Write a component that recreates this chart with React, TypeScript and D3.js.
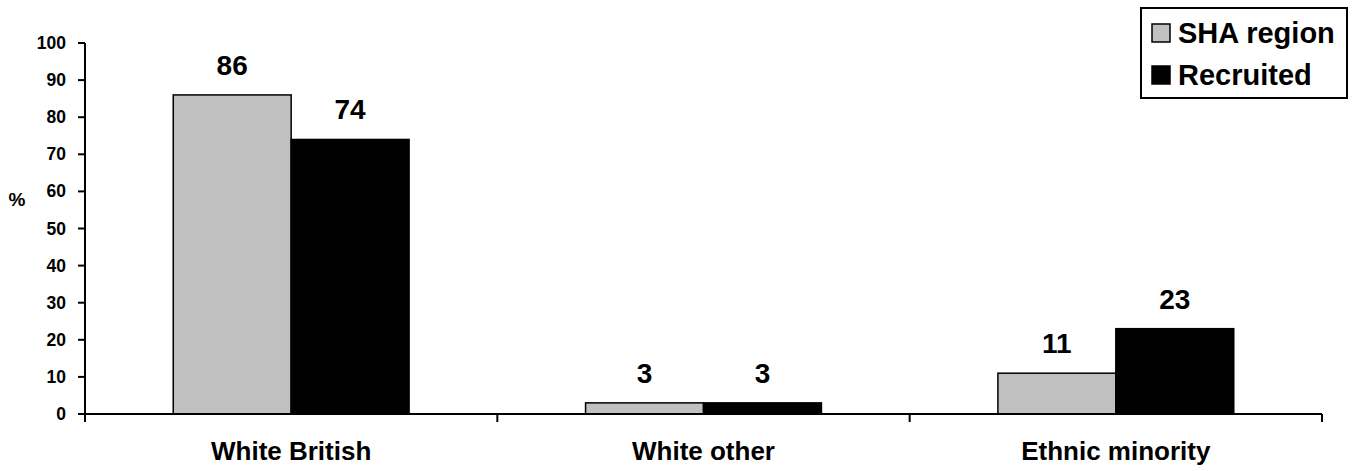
import * as d3 from "d3";

const categories = ["White British", "White other", "Ethnic minority"];
const seriesNames = ["SHA region", "Recruited"];
const shaRegion = [86, 3, 11];
const recruited = [74, 3, 23];
const yTicks = [0, 10, 20, 30, 40, 50, 60, 70, 80, 90, 100];
const seriesColors = ["#c0c0c0", "#000000"];

const W = 1355;
const H = 471;
const FONT = "Arial, 'Liberation Sans', sans-serif";

export default function App() {
  const x = d3.scaleBand<string>().domain(categories).range([85, 1322]);
  const y = d3.scaleLinear().domain([0, 100]).range([414, 43]);
  const groupW = x.bandwidth() * 0.572;
  const xSub = d3
    .scaleBand<string>()
    .domain(seriesNames)
    .range([(x.bandwidth() - groupW) / 2, (x.bandwidth() + groupW) / 2]);

  const values = [shaRegion, recruited];
  // category boundaries for the tick marks
  const xTickPos = [...categories.map((c) => x(c)!), x.range()[1]];

  return (
    <svg
      width={W}
      height={H}
      style={{ position: "absolute", left: 0, top: 0, background: "#fff" }}
      fontFamily={FONT}
      fontWeight="bold"
    >
      {/* bars */}
      {categories.map((c, i) =>
        seriesNames.map((s, j) => {
          const v = values[j][i];
          const bx = x(c)! + xSub(s)!;
          return (
            <g key={c + s}>
              <rect
                x={bx}
                y={y(v)}
                width={xSub.bandwidth()}
                height={y(0) - y(v)}
                fill={seriesColors[j]}
                stroke="#000"
                strokeWidth={1.5}
              />
              <text
                x={bx + xSub.bandwidth() / 2}
                y={y(v) - 20}
                textAnchor="middle"
                fontSize={28}
                fill="#000"
              >
                {v}
              </text>
            </g>
          );
        })
      )}

      {/* y axis */}
      <line x1={85} x2={85} y1={y(100)} y2={y(0)} stroke="#000" strokeWidth={2} />
      {yTicks.map((t) => (
        <g key={t}>
          <line x1={78} x2={85} y1={y(t)} y2={y(t)} stroke="#000" strokeWidth={2} />
          <text x={66} y={y(t) + 6} textAnchor="end" fontSize={17.5} fill="#000">
            {t}
          </text>
        </g>
      ))}
      <text x={17} y={206} textAnchor="middle" fontSize={19} fill="#000">
        %
      </text>

      {/* x axis */}
      <line x1={85} x2={1322} y1={y(0)} y2={y(0)} stroke="#000" strokeWidth={2} />
      {xTickPos.map((p, i) => (
        <line key={i} x1={p} x2={p} y1={y(0)} y2={y(0) + 8} stroke="#000" strokeWidth={2} />
      ))}
      {categories.map((c) => (
        <text
          key={c}
          x={x(c)! + x.bandwidth() / 2}
          y={460}
          textAnchor="middle"
          fontSize={26}
          fill="#000"
        >
          {c}
        </text>
      ))}

      {/* legend */}
      <rect x={1141} y={8} width={206} height={90} fill="#fff" stroke="#000" strokeWidth={2} />
      {seriesNames.map((s, j) => (
        <g key={s} transform={`translate(1152, ${24 + j * 42})`}>
          <rect width={18} height={18} fill={seriesColors[j]} stroke="#000" strokeWidth={1.5} />
          <text x={26} y={19} fontSize={29} fill="#000">
            {s}
          </text>
        </g>
      ))}
    </svg>
  );
}
